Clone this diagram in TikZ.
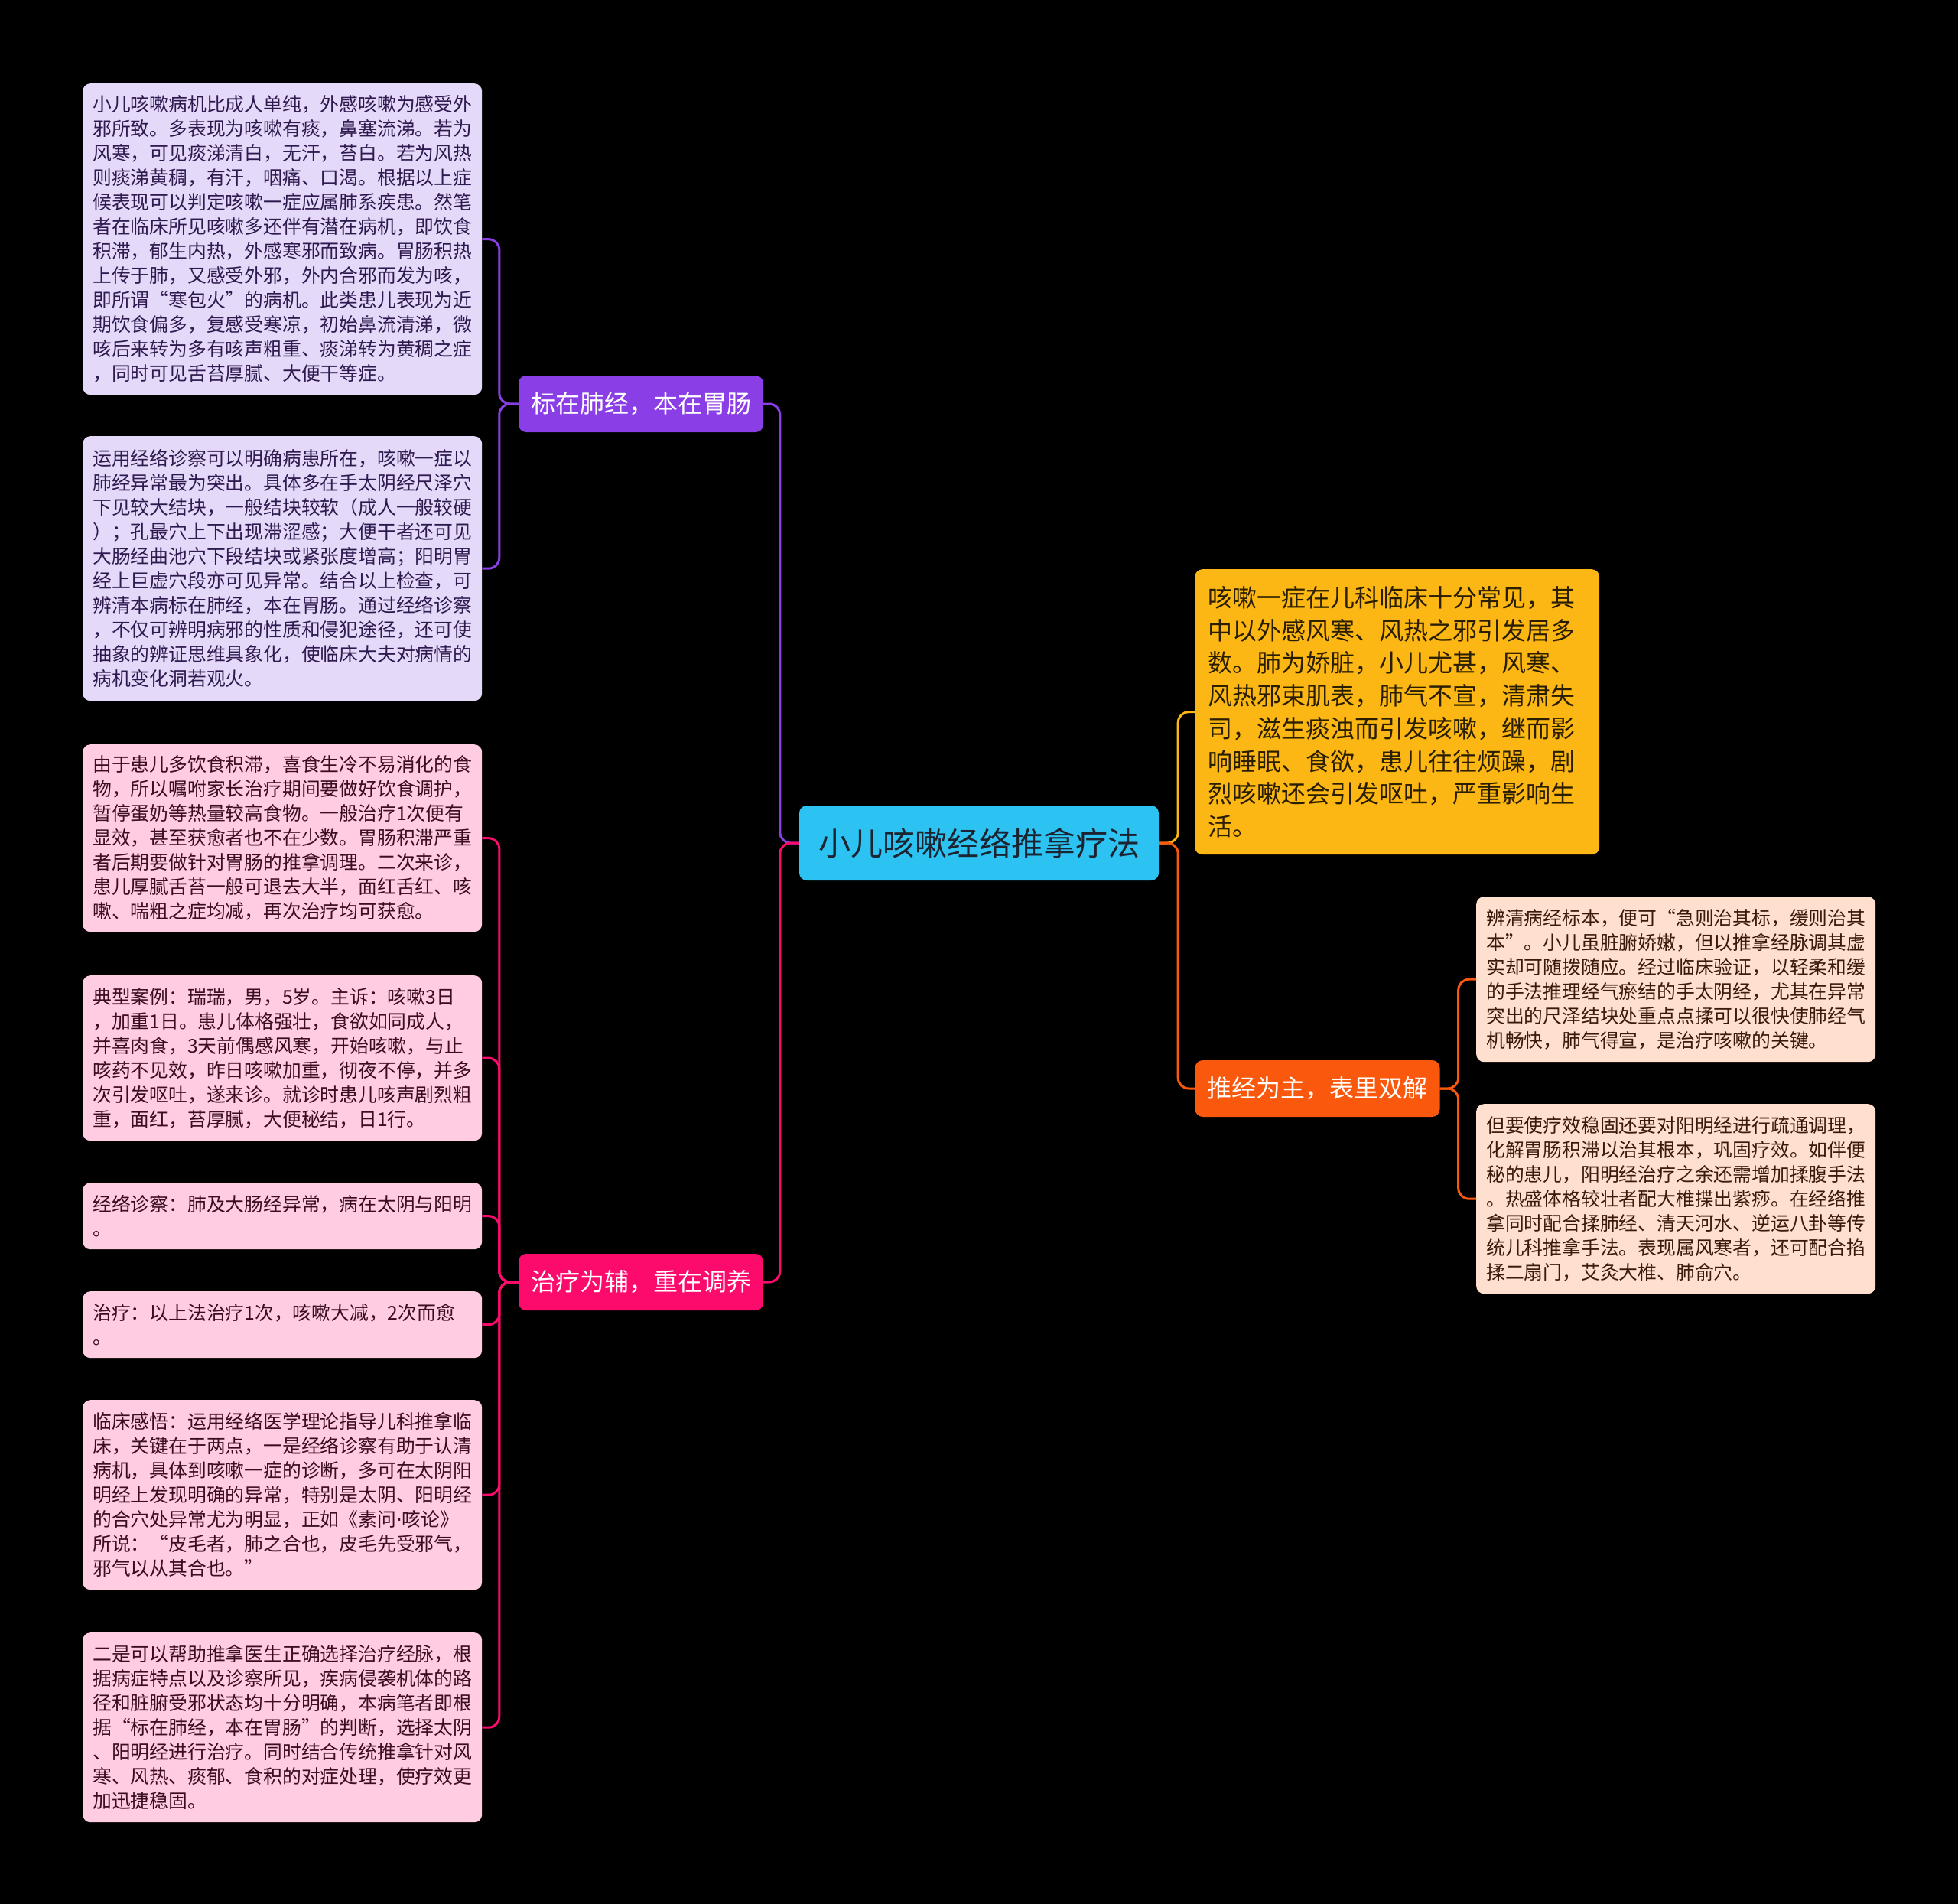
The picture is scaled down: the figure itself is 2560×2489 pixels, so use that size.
\documentclass[tikz,border=0pt]{standalone}
\usepackage{fontspec}
\setmainfont{Noto Sans CJK SC}
\newfontfamily\dotfont{DejaVu Sans}
\definecolor{bg}{HTML}{000000}
\definecolor{lavfill}{HTML}{E5D9FA}
\definecolor{lavtext}{HTML}{2E1A4F}
\definecolor{purp}{HTML}{8A3FE6}
\definecolor{pinkfill}{HTML}{FFCCE1}
\definecolor{pinktext}{HTML}{3A0D20}
\definecolor{hotpink}{HTML}{FC0A6C}
\definecolor{cyanc}{HTML}{2CC3F3}
\definecolor{centertext}{HTML}{1B2430}
\definecolor{yel}{HTML}{FDB714}
\definecolor{yeltext}{HTML}{2A1E00}
\definecolor{orng}{HTML}{FA580C}
\definecolor{peachfill}{HTML}{FFDFCD}
\definecolor{peachtext}{HTML}{3A1A0A}
\tikzset{
  leaf/.style={rounded corners=10pt, anchor=north west, inner xsep=13pt, inner ysep=0pt,
    text width=496pt, minimum width=522pt, align=left, font=\fontsize{24.8}{32}\selectfont},
  lavbox/.style={leaf, fill=lavfill, text=lavtext},
  pinkbox/.style={leaf, fill=pinkfill, text=pinktext},
  peachbox/.style={leaf, fill=peachfill, text=peachtext},
  topic/.style={rounded corners=10pt, minimum width=320pt, minimum height=74pt, inner sep=0pt,
    text=white, font=\fontsize{32}{38}\selectfont},
  link/.style={line width=3pt, rounded corners=14pt},
}
\begin{document}
\begin{tikzpicture}[x=1pt,y=-1pt]
\useasboundingbox (0,0) rectangle (2560,2489);
\fill[bg] (0,0) rectangle (2560,2489);

% center
\node[rounded corners=10pt, fill=cyanc, minimum width=470pt, minimum height=98pt, inner sep=0pt,
  text=centertext, font=\fontsize{42}{48}\selectfont] (center) at (1280,1102) {小儿咳嗽经络推拿疗法};

% main topics
\node[topic, fill=purp] (purple) at (838,528) {标在肺经，本在胃肠};
\node[topic, fill=hotpink] (pink) at (838,1676) {治疗为辅，重在调养};
\node[topic, fill=orng] (orange) at (1722.5,1423) {推经为主，表里双解};

% yellow box
\node[rounded corners=10pt, anchor=north west, fill=yel, text=yeltext, inner xsep=17pt, inner ysep=0pt,
  text width=495pt, minimum width=529pt, minimum height=373pt, align=left,
  font=\fontsize{32}{42.7}\selectfont] (yellow) at (1562,744) {咳嗽一症在儿科临床十分常见，其\\
中以外感风寒、风热之邪引发居多\\
数。肺为娇脏，小儿尤甚，风寒、\\
风热邪束肌表，肺气不宣，清肃失\\
司，滋生痰浊而引发咳嗽，继而影\\
响睡眠、食欲，患儿往往烦躁，剧\\
烈咳嗽还会引发呕吐，严重影响生\\
活。};

% lavender boxes
\node[lavbox, minimum height=407pt] (lav1) at (108,109) {小儿咳嗽病机比成人单纯，外感咳嗽为感受外\\
邪所致。多表现为咳嗽有痰，鼻塞流涕。若为\\
风寒，可见痰涕清白，无汗，苔白。若为风热\\
则痰涕黄稠，有汗，咽痛、口渴。根据以上症\\
候表现可以判定咳嗽一症应属肺系疾患。然笔\\
者在临床所见咳嗽多还伴有潜在病机，即饮食\\
积滞，郁生内热，外感寒邪而致病。胃肠积热\\
上传于肺，又感受外邪，外内合邪而发为咳，\\
即所谓“寒包火”的病机。此类患儿表现为近\\
期饮食偏多，复感受寒凉，初始鼻流清涕，微\\
咳后来转为多有咳声粗重、痰涕转为黄稠之症\\
，同时可见舌苔厚腻、大便干等症。};

\node[lavbox, minimum height=346pt] (lav2) at (108,570) {运用经络诊察可以明确病患所在，咳嗽一症以\\
肺经异常最为突出。具体多在手太阴经尺泽穴\\
下见较大结块，一般结块较软（成人一般较硬\\
）；孔最穴上下出现滞涩感；大便干者还可见\\
大肠经曲池穴下段结块或紧张度增高；阳明胃\\
经上巨虚穴段亦可见异常。结合以上检查，可\\
辨清本病标在肺经，本在胃肠。通过经络诊察\\
，不仅可辨明病邪的性质和侵犯途径，还可使\\
抽象的辨证思维具象化，使临床大夫对病情的\\
病机变化洞若观火。};

% pink boxes
\node[pinkbox, minimum height=245pt] (pk1) at (108,973) {由于患儿多饮食积滞，喜食生冷不易消化的食\\
物，所以嘱咐家长治疗期间要做好饮食调护，\\
暂停蛋奶等热量较高食物。一般治疗1次便有\\
显效，甚至获愈者也不在少数。胃肠积滞严重\\
者后期要做针对胃肠的推拿调理。二次来诊，\\
患儿厚腻舌苔一般可退去大半，面红舌红、咳\\
嗽、喘粗之症均减，再次治疗均可获愈。};

\node[pinkbox, minimum height=216pt] (pk2) at (108,1275) {典型案例：瑞瑞，男，5岁。主诉：咳嗽3日\\
，加重1日。患儿体格强壮，食欲如同成人，\\
并喜肉食，3天前偶感风寒，开始咳嗽，与止\\
咳药不见效，昨日咳嗽加重，彻夜不停，并多\\
次引发呕吐，遂来诊。就诊时患儿咳声剧烈粗\\
重，面红，苔厚腻，大便秘结，日1行。};

\node[pinkbox, minimum height=87pt] (pk3) at (108,1546) {经络诊察：肺及大肠经异常，病在太阴与阳明\\
。};

\node[pinkbox, minimum height=87pt] (pk4) at (108,1688) {治疗：以上法治疗1次，咳嗽大减，2次而愈\\
。};

\node[pinkbox, minimum height=248pt] (pk5) at (108,1830) {临床感悟：运用经络医学理论指导儿科推拿临\\
床，关键在于两点，一是经络诊察有助于认清\\
病机，具体到咳嗽一症的诊断，多可在太阴阳\\
明经上发现明确的异常，特别是太阴、阳明经\\
的合穴处异常尤为明显，正如《素问{\dotfont ·}咳论》\\
所说：“皮毛者，肺之合也，皮毛先受邪气，\\
邪气以从其合也。”};

\node[pinkbox, minimum height=248pt] (pk6) at (108,2134) {二是可以帮助推拿医生正确选择治疗经脉，根\\
据病症特点以及诊察所见，疾病侵袭机体的路\\
径和脏腑受邪状态均十分明确，本病笔者即根\\
据“标在肺经，本在胃肠”的判断，选择太阴\\
、阳明经进行治疗。同时结合传统推拿针对风\\
寒、风热、痰郁、食积的对症处理，使疗效更\\
加迅捷稳固。};

% peach boxes
\node[peachbox, minimum height=216pt] (pc1) at (1930,1172) {辨清病经标本，便可“急则治其标，缓则治其\\
本”。小儿虽脏腑娇嫩，但以推拿经脉调其虚\\
实却可随拨随应。经过临床验证，以轻柔和缓\\
的手法推理经气瘀结的手太阴经，尤其在异常\\
突出的尺泽结块处重点点揉可以很快使肺经气\\
机畅快，肺气得宣，是治疗咳嗽的关键。};

\node[peachbox, minimum height=248pt] (pc2) at (1930,1443) {但要使疗效稳固还要对阳明经进行疏通调理，\\
化解胃肠积滞以治其根本，巩固疗效。如伴便\\
秘的患儿，阳明经治疗之余还需增加揉腹手法\\
。热盛体格较壮者配大椎揲出紫痧。在经络推\\
拿同时配合揉肺经、清天河水、逆运八卦等传\\
统儿科推拿手法。表现属风寒者，还可配合掐\\
揉二扇门，艾灸大椎、肺俞穴。};

% connectors
\draw[link, purp] (center.west) -- ++(-25,0) |- (purple.east);
\draw[link, hotpink] (center.west) -- ++(-25,0) |- (pink.east);
\draw[link, yel] (center.east) -- ++(25,0) |- (yellow.west);
\draw[link, orng] (center.east) -- ++(25,0) |- (orange.west);

\draw[link, purp] (purple.west) -- ++(-25,0) |- (lav1.east);
\draw[link, purp] (purple.west) -- ++(-25,0) |- (lav2.east);

\foreach \b in {pk1,pk2,pk3,pk4,pk5,pk6}
  \draw[link, hotpink] (pink.west) -- ++(-25,0) |- (\b.east);

\draw[link, orng] (orange.east) -- ++(24,0) |- (pc1.west);
\draw[link, orng] (orange.east) -- ++(24,0) |- (pc2.west);
\end{tikzpicture}
\end{document}
